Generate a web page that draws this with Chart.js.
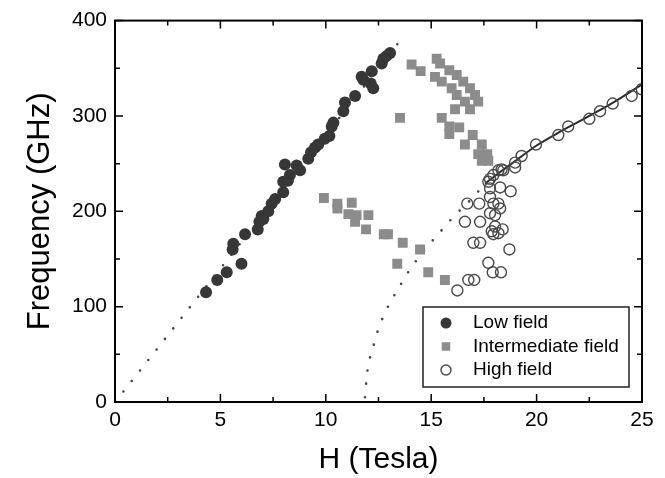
<!DOCTYPE html>
<html>
<head>
<meta charset="utf-8">
<script src="https://cdn.jsdelivr.net/npm/chart.js@4.4.1/dist/chart.umd.min.js"></script>
<style>
  html, body { margin: 0; padding: 0; background: #fff; }
  canvas { display: block; }
</style>
</head>
<body>
<canvas id="chart" width="665" height="478"></canvas>
<script>
// H (Tesla), Frequency (GHz)
const lowFieldH = [4.32, 4.85, 5.3, 6.0, 5.58, 5.61, 6.17, 6.77, 6.85, 6.96, 7.04, 7.27, 7.43, 7.6, 7.98, 7.98, 8.06, 8.2, 8.30, 8.62, 8.78, 9.17, 9.3, 9.49, 9.64, 9.95, 10.17, 10.28, 10.36, 10.83, 10.91, 11.39, 11.70, 11.78, 12.13, 12.18, 12.25, 12.65, 12.73, 12.89, 13.05];
const lowFieldF = [115, 128, 136, 145, 160, 166, 176, 181, 189, 195, 192, 200, 208, 213, 220, 231, 249, 232, 238, 248, 243, 255, 262, 267, 270, 276, 279, 289, 293, 305, 314, 321, 341, 338, 334, 347, 329, 355, 360, 363, 366];

const midFieldH = [14.07, 14.50, 15.26, 15.42, 15.86, 16.21, 16.52, 16.84, 17.08, 17.23, 15.18, 15.50, 15.97, 16.21, 16.60, 16.84, 16.13, 13.52, 15.50, 15.86, 16.33, 15.86, 16.97, 16.60, 17.40, 17.23, 17.66, 17.40, 17.71,
                   9.91, 10.55, 10.55, 11.23, 11.07, 11.46, 11.39, 12.02, 11.91, 12.75, 12.95, 13.65, 14.47, 13.39, 14.86, 15.65];
const midFieldF = [354, 347, 360, 355, 348, 343, 336, 329, 322, 315, 341, 336, 329, 322, 315, 307, 307, 298, 298, 289, 288, 281, 280, 270, 270, 260, 260, 253, 253,
                   214, 208, 203, 209, 197, 196, 189, 196, 181, 176, 176, 167, 160, 145, 136, 128];

const highFieldH = [16.71, 17.28, 16.60, 17.32, 17.00, 17.32, 17.79, 17.95, 18.19, 17.79, 18.03, 18.27, 17.87, 17.95, 18.19, 18.39, 18.71, 17.71, 17.92, 18.31, 16.76, 17.04, 16.24, 17.79, 18.27, 18.77, 17.79, 17.95, 18.19, 18.34, 17.71, 18.03, 18.42, 18.98, 18.98, 19.29, 19.97, 21.03, 21.50, 22.50, 23.01, 23.61, 24.51, 24.99];
const highFieldF = [208, 208, 189, 189, 167, 167, 215, 208, 208, 198, 196, 203, 179, 176, 177, 181, 160, 146, 136, 136, 128, 128, 117, 224, 225, 221, 234, 238, 243, 244, 231, 184, 243, 251, 246, 258, 270, 280, 289, 297, 305, 313, 321, 328];

// guide lines
const linearH = [0.4, 13.6];
const linearF = [11, 381];
const curveH = [11.86, 11.94, 12.02, 12.18, 12.44, 12.86, 13.36, 13.99, 14.71, 15.57, 16.05, 17.0, 17.55];
const curveF = [5, 26, 40, 52, 73, 96, 116, 139, 160, 182, 194, 215, 229];
const fitH = [17.55, 18.26, 19, 20, 21, 22, 22.5, 23, 24, 25];
const fitF = [229, 241, 253, 269, 282, 294, 300, 306, 319, 333];

const xTicks = [0, 5, 10, 15, 20, 25];
const yTicks = [0, 100, 200, 300, 400];
const legendLabels = ['Low field', 'Intermediate field', 'High field'];

const FONT = '"Liberation Sans", Arial, sans-serif';

function pts(xs, ys) {
  return xs.map((x, i) => ({x: x, y: ys[i]}));
}

const framePlugin = {
  id: 'frame',
  afterDatasetsDraw(chart) {
    const {ctx, chartArea: a, scales: {x, y}} = chart;
    ctx.save();
    ctx.strokeStyle = '#000';
    ctx.lineWidth = 1.5;
    const xs = [];
    xTicks.forEach((v, i) => {
      xs.push([v, 8]);
      if (i < xTicks.length - 1) xs.push([(v + xTicks[i + 1]) / 2, 5]);
    });
    const ys = [];
    yTicks.forEach((v, i) => {
      ys.push([v, 8]);
      if (i < yTicks.length - 1) ys.push([(v + yTicks[i + 1]) / 2, 5]);
    });
    ctx.beginPath();
    for (const [v, len] of xs) {
      const px = x.getPixelForValue(v);
      ctx.moveTo(px, a.bottom); ctx.lineTo(px, a.bottom - len);
      ctx.moveTo(px, a.top); ctx.lineTo(px, a.top + len);
    }
    for (const [v, len] of ys) {
      const py = y.getPixelForValue(v);
      ctx.moveTo(a.left, py); ctx.lineTo(a.left + len, py);
      ctx.moveTo(a.right, py); ctx.lineTo(a.right - len, py);
    }
    ctx.stroke();
    ctx.lineWidth = 2;
    ctx.strokeRect(a.left, a.top, a.right - a.left, a.bottom - a.top);
    ctx.restore();
  }
};

const legendPlugin = {
  id: 'boxLegend',
  afterDraw(chart) {
    const {ctx, chartArea: a} = chart;
    const w = 206, h = 80;
    const left = a.right - 13 - w;
    const top = a.bottom - 15 - h;
    ctx.save();
    ctx.fillStyle = '#fff';
    ctx.fillRect(left, top, w, h);
    ctx.strokeStyle = '#222';
    ctx.lineWidth = 1.5;
    ctx.strokeRect(left, top, w, h);
    ctx.font = '19px ' + FONT;
    ctx.textBaseline = 'middle';
    legendLabels.forEach((label, i) => {
      const ds = chart.data.datasets[i];
      const cy = top + 16 + i * 23.5;
      ctx.fillStyle = ds.backgroundColor;
      ctx.strokeStyle = ds.borderColor;
      ctx.lineWidth = ds.borderWidth;
      ctx.beginPath();
      if (ds.pointStyle === 'rect') {
        const s = (ds.pointRadius - 1) * Math.SQRT1_2;
        ctx.rect(left + 23 - s, cy - s, 2 * s, 2 * s);
      } else {
        ctx.arc(left + 23, cy, ds.pointRadius - 0.5, 0, Math.PI * 2);
      }
      ctx.fill();
      if (ds.borderWidth) ctx.stroke();
      ctx.fillStyle = '#000';
      ctx.fillText(label, left + 50, cy);
    });
    ctx.restore();
  }
};

const config = {
  type: 'scatter',
  data: {
    datasets: [
      {
        label: legendLabels[0],
        data: pts(lowFieldH, lowFieldF),
        pointStyle: 'circle',
        pointRadius: 6,
        backgroundColor: '#373737',
        borderColor: '#373737',
        borderWidth: 0,
      },
      {
        label: legendLabels[1],
        data: pts(midFieldH, midFieldF),
        pointStyle: 'rect',
        pointRadius: 7,
        backgroundColor: '#8c8c8c',
        borderColor: '#8c8c8c',
        borderWidth: 0,
      },
      {
        label: legendLabels[2],
        data: pts(highFieldH, highFieldF),
        pointStyle: 'circle',
        pointRadius: 5.5,
        backgroundColor: 'rgba(0,0,0,0)',
        borderColor: '#4a4a4a',
        borderWidth: 1.4,
      },
      {
        label: 'fit',
        data: pts(fitH, fitF),
        showLine: true,
        pointRadius: 0,
        borderColor: '#2a2a2a',
        borderWidth: 2,
        tension: 0.3,
      },
      {
        label: 'linear',
        data: pts(linearH, linearF),
        showLine: true,
        pointRadius: 0,
        borderColor: '#444',
        borderWidth: 2.6,
        borderDash: [0, 13.4],
        borderCapStyle: 'round',
      },
      {
        label: 'curve',
        data: pts(curveH, curveF),
        showLine: true,
        pointRadius: 0,
        borderColor: '#444',
        borderWidth: 2.6,
        borderDash: [0, 13.4],
        borderCapStyle: 'round',
        cubicInterpolationMode: 'monotone',
      },
    ]
  },
  options: {
    responsive: false,
    animation: false,
    devicePixelRatio: 1,
    layout: {padding: {top: 17, right: 23, left: 0, bottom: 0}},
    plugins: {legend: {display: false}, tooltip: {enabled: false}},
    scales: {
      x: {
        type: 'linear',
        min: 0,
        max: 25,
        afterBuildTicks: (s) => { s.ticks = xTicks.map(v => ({value: v})); },
        afterFit: (s) => { s.height = 76; },
        grid: {display: false, drawTicks: false},
        border: {display: false},
        ticks: {color: '#000', padding: 6, font: {family: FONT, size: 21}},
        title: {
          display: true,
          text: 'H (Tesla)',
          color: '#000',
          padding: {top: 0, bottom: 0},
          font: {family: FONT, size: 30},
        },
      },
      y: {
        type: 'linear',
        min: 0,
        max: 400,
        afterBuildTicks: (s) => { s.ticks = yTicks.map(v => ({value: v})); },
        afterFit: (s) => { s.width = 115; },
        grid: {display: false, drawTicks: false},
        border: {display: false},
        ticks: {color: '#000', padding: 8, font: {family: FONT, size: 21}},
        title: {
          display: true,
          text: 'Frequency (GHz)',
          color: '#000',
          padding: {top: 22, bottom: 0},
          font: {family: FONT, size: 31},
        },
      },
    },
  },
  plugins: [framePlugin, legendPlugin],
};

new Chart(document.getElementById('chart'), config);
</script>
</body>
</html>
